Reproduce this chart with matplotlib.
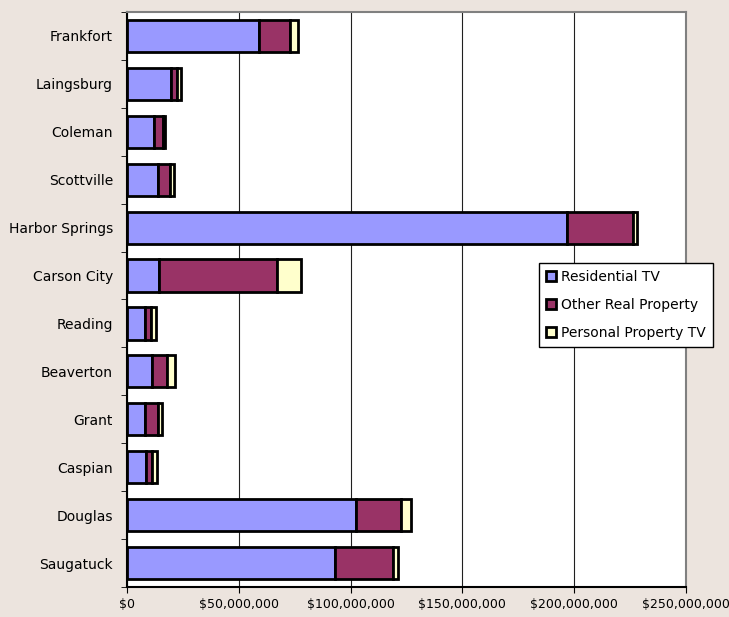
import matplotlib.pyplot as plt
import numpy as np
from matplotlib.ticker import FuncFormatter, MultipleLocator

# taxable value by city, in millions of dollars
cities = ['Frankfort', 'Laingsburg', 'Coleman', 'Scottville', 'Harbor Springs',
          'Carson City', 'Reading', 'Beaverton', 'Grant', 'Caspian',
          'Douglas', 'Saugatuck']
residential = [59.0, 19.6, 12.0, 13.9, 197.0, 14.3, 7.9, 11.2, 8.2, 8.5, 102.2, 93.1]
other_real = [14.1, 2.8, 4.2, 5.2, 29.2, 52.8, 2.7, 6.6, 5.7, 2.9, 20.3, 26.0]
personal = [3.2, 1.6, 1.0, 1.9, 2.1, 10.5, 2.2, 3.7, 1.6, 2.0, 4.4, 2.2]

series = [('Residential TV', residential, '#9999FF'),
          ('Other Real Property', other_real, '#993366'),
          ('Personal Property TV', personal, '#FFFFCC')]

bg = '#ECE4DE'
fig = plt.figure(figsize=(7.29, 6.17), dpi=100, facecolor=bg)
ax = fig.add_axes([0.1742, 0.0486, 0.7668, 0.932])
ax.set_facecolor('white')

y = np.arange(len(cities))
left = np.zeros(len(cities))
for name, vals, col in series:
    v = np.array(vals) * 1e6
    ax.barh(y, v, left=left, height=0.67, color=col, edgecolor='black',
            linewidth=2, label=name, zorder=3)
    left += v

ax.set_xlim(0, 250e6)
ax.set_ylim(len(cities) - 0.5, -0.5)
ax.xaxis.set_major_locator(MultipleLocator(50e6))
ax.xaxis.set_major_formatter(FuncFormatter(lambda x, p: '${:,.0f}'.format(x)))
ax.grid(axis='x', color='#202020', linewidth=0.8, zorder=0)

ax.set_yticks(y)
ax.set_yticklabels(cities)
ax.set_yticks(np.arange(len(cities) + 1) - 0.5, minor=True)
ax.tick_params(axis='y', which='major', length=0, labelsize=10, pad=10)
ax.tick_params(axis='y', which='minor', length=4, direction='out')
ax.tick_params(axis='x', length=4, direction='out', labelsize=9, pad=4)

for s in ['top', 'right']:
    ax.spines[s].set_color('#808080')
    ax.spines[s].set_linewidth(1.5)
ax.spines['left'].set_linewidth(1.5)
ax.spines['bottom'].set_linewidth(1.5)

leg = fig.legend(loc='upper left', bbox_to_anchor=(539 / 729, 1 - 263 / 617),
                 fancybox=False, framealpha=1, edgecolor='black', fontsize=10,
                 handlelength=0.7, handleheight=0.7, handletextpad=0.4,
                 borderpad=0.5, labelspacing=1.0, borderaxespad=0)
leg.get_frame().set_linewidth(1)

fig.savefig('out.png', dpi=100, facecolor=bg)
